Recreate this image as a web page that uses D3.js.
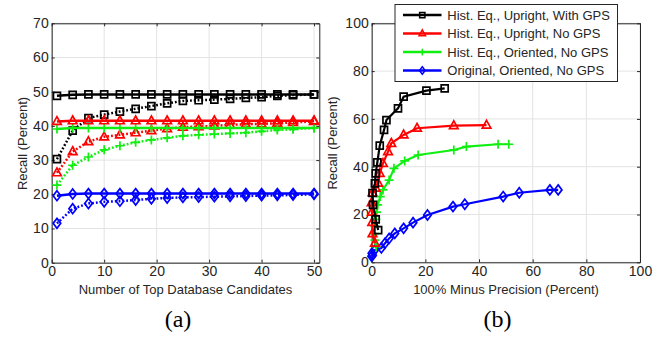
<!DOCTYPE html>
<html>
<head>
<meta charset="utf-8">
<script src="https://cdn.jsdelivr.net/npm/d3@7"></script>
<style>
body { margin: 0; background: #fff; }
</style>
</head>
<body>
<div id="chart-area"></div>
<script>
// ---- data ----
var seriesNames = ["Hist. Eq., Upright, With GPS", "Hist. Eq., Upright, No GPS",
                   "Hist. Eq., Oriented, No GPS", "Original, Oriented, No GPS"];
var seriesColors = ["#000000", "#ff0000", "#11ee11", "#0000ff"];
var seriesMarkers = ["square", "triangle", "plus", "diamond"];

// (a) recall vs number of top database candidates
var topN = [1, 4, 7, 10, 13, 16, 19, 22, 25, 28, 31, 34, 37, 40, 43, 46, 50];
var upGpsSolid   = [48.8, 49.1, 49.2, 49.2, 49.2, 49.2, 49.2, 49.2, 49.2, 49.2, 49.2, 49.2, 49.2, 49.2, 49.2, 49.2, 49.2];
var upGpsDotted  = [30.3, 38.6, 42.3, 43.3, 44.2, 45.0, 45.8, 46.6, 47.3, 47.5, 47.7, 47.9, 48.2, 48.4, 48.8, 49.0, 49.2];
var upNoSolid    = [41.3, 41.5, 41.5, 41.5, 41.5, 41.5, 41.5, 41.5, 41.5, 41.5, 41.5, 41.5, 41.5, 41.5, 41.5, 41.5, 41.5];
var upNoDotted   = [26.3, 32.5, 35.4, 36.8, 37.4, 38.0, 38.6, 39.2, 39.6, 39.8, 40.0, 40.3, 40.5, 40.6, 40.8, 41.0, 41.3];
var orNoSolid    = [39.1, 39.4, 39.4, 39.4, 39.4, 39.4, 39.4, 39.4, 39.4, 39.4, 39.4, 39.4, 39.4, 39.4, 39.4, 39.4, 39.4];
var orNoDotted   = [22.7, 28.5, 30.9, 33.0, 34.2, 35.2, 35.9, 36.5, 37.1, 37.4, 37.6, 37.8, 38.0, 38.4, 38.8, 39.0, 39.4];
var origNoSolid  = [19.6, 20.1, 20.2, 20.2, 20.2, 20.2, 20.2, 20.2, 20.2, 20.2, 20.2, 20.2, 20.2, 20.2, 20.2, 20.2, 20.2];
var origNoDotted = [11.5, 15.8, 17.3, 17.8, 18.0, 18.3, 18.7, 18.9, 19.1, 19.2, 19.3, 19.4, 19.5, 19.6, 19.7, 19.8, 20.0];

// (b) recall vs 100% minus precision
var upGpsMiss    = [2.4, 1.5, 0.5, 0.3, 1.2, 1.5, 2.1, 3.0, 4.6, 5.5, 9.8, 11.9, 20.4, 27.2];
var upGpsRecall  = [13.5, 18.0, 24.0, 29.0, 33.0, 37.2, 41.8, 48.8, 55.4, 59.5, 64.4, 69.3, 71.8, 72.8];
var upNoMiss     = [1.2, 0.3, 0.2, 0.1, 0.0, 0.3, 1.5, 2.4, 3.0, 4.2, 6.1, 7.3, 11.9, 16.9, 30.6, 42.8];
var upNoRecall   = [8.0, 12.0, 16.7, 21.0, 25.0, 29.1, 31.0, 33.1, 37.2, 41.4, 46.3, 49.8, 53.3, 56.1, 57.2, 57.4];
var orNoMiss     = [1.7, 1.2, 1.0, 1.2, 1.5, 1.8, 2.2, 3.2, 4.2, 6.5, 8.3, 12.3, 17.3, 30.6, 35.3, 47.1, 51.1];
var orNoRecall   = [6.5, 9.3, 12.0, 15.0, 18.0, 21.0, 24.0, 27.5, 30.3, 34.4, 39.3, 42.4, 44.9, 47.0, 48.4, 49.4, 49.4];
var origNoMiss   = [0.0, 0.3, 0.1, 1.1, 3.6, 4.9, 6.5, 8.6, 11.9, 15.4, 20.8, 30.3, 34.7, 49.0, 55.0, 66.4, 69.5];
var origNoRecall = [2.5, 3.0, 3.8, 5.1, 6.0, 7.9, 10.0, 12.1, 14.2, 16.6, 19.8, 23.3, 24.3, 27.5, 29.1, 30.3, 30.3];

var ticksAx = [0, 10, 20, 30, 40, 50];
var ticksAy = [0, 10, 20, 30, 40, 50, 60, 70];
var ticksB  = [0, 20, 40, 60, 80, 100];

var svg = d3.select("#chart-area")
    .append("svg")
        .attr("width", 660)
        .attr("height", 337)
        .style("font-family", "'Liberation Sans', Arial, sans-serif");

// Scales
var xA = d3.scaleLinear().domain([0, 51]).range([51.7, 319.3]);
var yA = d3.scaleLinear().domain([0, 70]).range([262.7, 23.3]);
var xB = d3.scaleLinear().domain([0, 100]).range([371.7, 640]);
var yB = d3.scaleLinear().domain([0, 100]).range([262.3, 23.3]);

function markerPath(shape) {
    if (shape == "square") return "M-3.5,-3.5H3.5V3.5H-3.5Z";
    if (shape == "triangle") return "M0,-4.8L4.3,3H-4.3Z";
    if (shape == "plus") return "M-4.5,0H4.5M0,-4.5V4.5";
    return "M0,-5L3.8,0L0,5L-3.8,0Z";
}

function drawFrame(x, y, xTicks, yTicks) {
    var x0 = x.range()[0], x1 = x.range()[1];
    var y0 = y.range()[0], y1 = y.range()[1];
    var g = svg.append("g");

    // grid
    g.selectAll(".vgrid").data(xTicks).enter().append("line")
        .attr("x1", function(d){ return x(d); }).attr("x2", function(d){ return x(d); })
        .attr("y1", y0).attr("y2", y1)
        .attr("stroke", "#e3e3e3").attr("stroke-width", 1);
    g.selectAll(".hgrid").data(yTicks).enter().append("line")
        .attr("x1", x0).attr("x2", x1)
        .attr("y1", function(d){ return y(d); }).attr("y2", function(d){ return y(d); })
        .attr("stroke", "#e3e3e3").attr("stroke-width", 1);

    // axes (ticks pointing inward)
    g.append("g").attr("transform", "translate(0," + y0 + ")")
        .call(d3.axisBottom(x).tickValues(xTicks).tickSize(-3).tickPadding(3.5).tickSizeOuter(0));
    g.append("g").attr("transform", "translate(" + x0 + ",0)")
        .call(d3.axisLeft(y).tickValues(yTicks).tickSize(-3).tickPadding(3).tickSizeOuter(0));
    g.append("g").attr("transform", "translate(0," + y1 + ")")
        .call(d3.axisTop(x).tickValues(xTicks).tickSize(-3).tickFormat("").tickSizeOuter(0));
    g.append("g").attr("transform", "translate(" + x1 + ",0)")
        .call(d3.axisRight(y).tickValues(yTicks).tickSize(-3).tickFormat("").tickSizeOuter(0));

    g.selectAll(".domain").attr("stroke", "#262626");
    g.selectAll(".tick line").attr("stroke", "#262626");
    g.selectAll(".tick text")
        .attr("font-size", "14px")
        .attr("font-family", "'Liberation Sans', Arial, sans-serif")
        .attr("fill", "#262626");
    return g;
}

function drawSeries(g, x, y, xs, ys, color, marker, dotted, lw) {
    var pts = xs.map(function(d, i){ return [d, ys[i]]; });
    var line = d3.line()
        .x(function(d){ return x(d[0]); })
        .y(function(d){ return y(d[1]); });
    g.append("path")
        .datum(pts)
        .attr("d", line)
        .attr("fill", "none")
        .attr("stroke", color)
        .attr("stroke-width", lw)
        .attr("stroke-dasharray", dotted ? "1.8,2" : null);
    g.selectAll(null)
        .data(pts)
        .enter().append("path")
            .attr("transform", function(d){ return "translate(" + x(d[0]) + "," + y(d[1]) + ")"; })
            .attr("d", markerPath(marker))
            .attr("fill", "none")
            .attr("stroke", color)
            .attr("stroke-width", 1.7);
}

// ---- (a) ----
var gA = drawFrame(xA, yA, ticksAx, ticksAy);
var dottedA = [upGpsDotted, upNoDotted, orNoDotted, origNoDotted];
var solidA = [upGpsSolid, upNoSolid, orNoSolid, origNoSolid];
for (var i = 3; i >= 0; i--) {
    drawSeries(gA, xA, yA, topN, dottedA[i], seriesColors[i], seriesMarkers[i], true, 2.5);
}
for (var i = 3; i >= 0; i--) {
    drawSeries(gA, xA, yA, topN, solidA[i], seriesColors[i], seriesMarkers[i], false, 2.5);
}

// ---- (b) ----
var gB = drawFrame(xB, yB, ticksB, ticksB);
var missB = [upGpsMiss, upNoMiss, orNoMiss, origNoMiss];
var recallB = [upGpsRecall, upNoRecall, orNoRecall, origNoRecall];
for (var i = 3; i >= 0; i--) {
    drawSeries(gB, xB, yB, missB[i], recallB[i], seriesColors[i], seriesMarkers[i], false, 2.2);
}

// X Labels
svg.append("text")
    .attr("x", 185.5).attr("y", 293.5)
    .attr("font-size", "13px").attr("text-anchor", "middle").attr("fill", "#262626")
    .text("Number of Top Database Candidates");
svg.append("text")
    .attr("x", 506).attr("y", 293.5)
    .attr("font-size", "13px").attr("text-anchor", "middle").attr("fill", "#262626")
    .text("100% Minus Precision (Percent)");

// Y Labels
svg.append("text")
    .attr("transform", "translate(26.5,143.5) rotate(-90)")
    .attr("font-size", "13px").attr("text-anchor", "middle").attr("fill", "#262626")
    .text("Recall (Percent)");
svg.append("text")
    .attr("transform", "translate(337,143) rotate(-90)")
    .attr("font-size", "13px").attr("text-anchor", "middle").attr("fill", "#262626")
    .text("Recall (Percent)");

// Sub captions
svg.append("text")
    .attr("x", 178).attr("y", 327)
    .attr("font-size", "24px").attr("text-anchor", "middle")
    .attr("font-family", "'Liberation Serif', 'Times New Roman', serif")
    .text("(a)");
svg.append("text")
    .attr("x", 497.5).attr("y", 327)
    .attr("font-size", "24px").attr("text-anchor", "middle")
    .attr("font-family", "'Liberation Serif', 'Times New Roman', serif")
    .text("(b)");

// Legend
var legend = svg.append("g");
legend.append("rect")
    .attr("x", 395).attr("y", 4.5)
    .attr("width", 222.5).attr("height", 77)
    .attr("fill", "#fff").attr("stroke", "#262626").attr("stroke-width", 1);
var legendY = d3.scalePoint().domain(seriesNames).range([15, 70.5]);
seriesNames.forEach(function(name, i) {
    var ly = legendY(name);
    legend.append("line")
        .attr("x1", 403).attr("x2", 441.5)
        .attr("y1", ly).attr("y2", ly)
        .attr("stroke", seriesColors[i]).attr("stroke-width", 2.5);
    legend.append("path")
        .attr("transform", "translate(422.3," + ly + ") scale(0.75)")
        .attr("d", markerPath(seriesMarkers[i]))
        .attr("fill", "none").attr("stroke", seriesColors[i]).attr("stroke-width", 2);
    legend.append("text")
        .attr("x", 447.3).attr("y", ly).attr("dy", "0.35em")
        .attr("font-size", "13px").attr("fill", "#262626")
        .text(name);
});
</script>
</body>
</html>
